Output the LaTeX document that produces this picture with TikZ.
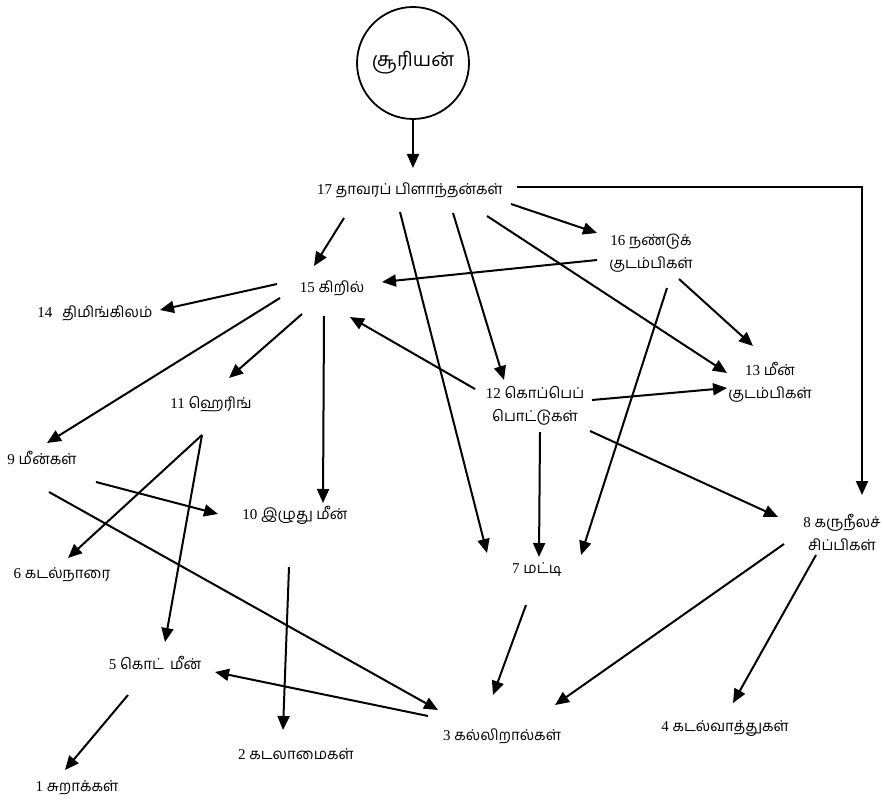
\documentclass[tikz,border=0pt]{standalone}
\usepackage{fontspec}
\setmainfont{Liberation Serif}
\newfontfamily\tam[Script=Tamil]{Hind Madurai}
\usetikzlibrary{arrows.meta}
\tikzset{
  lbl/.style={inner sep=0pt,align=center,font=\fontsize{15}{23}\selectfont},
  arr/.style={line width=2pt,-{Triangle[length=14pt,width=12pt]}},
  ln/.style={line width=2pt}
}
\begin{document}
\begin{tikzpicture}[x=1pt,y=-1pt]
\useasboundingbox (0,0) rectangle (883,802);
% nodes
\node[circle,draw,line width=1.8pt,minimum size=112pt,inner sep=0pt] (sun) at (413,63) {\tam\fontsize{19.5}{24}\selectfont சூரியன்};
\node[lbl] (n17) at (410,190) {17 {\tam தாவரப் பிளாந்தன்கள்}};
\node[lbl] (n16) at (651,253) {16 {\tam நண்டுக்}\\{\tam குடம்பிகள்}};
\node[lbl] (n15) at (332,288) {15 {\tam கிறில்}};
\node[lbl] (n14) at (95,313) {14\hspace{10pt}{\tam திமிங்கிலம்}};
\node[lbl] (n13) at (770,382) {13 {\tam மீன்}\\{\tam குடம்பிகள்}};
\node[lbl] (n12) at (535,406) {12 {\tam கொப்பெப்}\\{\tam பொட்டுகள்}};
\node[lbl] (n11) at (211,404) {11 {\tam ஹெரிங்}};
\node[lbl] (n10) at (295,515) {10 {\tam இழுது மீன்}};
\node[lbl] (n9) at (42,458) {9 {\tam மீன்கள்}};
\node[lbl] (n8) at (842,532) {8 {\tam கருநீலச்}\\{\tam சிப்பிகள்}};
\node[lbl] (n7) at (537,570) {7 {\tam மட்டி}};
\node[lbl] (n6) at (62,575) {6 {\tam கடல்நாரை}};
\node[lbl] (n5) at (155,663) {5 {\tam கொட்\hspace{6pt}மீன்}};
\node[lbl] (n4) at (725,729) {4 {\tam கடல்வாத்துகள்}};
\node[lbl] (n3) at (502,736) {3 {\tam கல்லிறால்கள்}};
\node[lbl] (n2) at (296,754) {2 {\tam கடலாமைகள்}};
\node[lbl] (n1) at (77,788) {1 {\tam சுறாக்கள்}};
% connector end points
\coordinate (t17) at (413,168);
\coordinate (a17r) at (517,187);
\coordinate (c17r) at (862,187);
\coordinate (t8a) at (862,495);
\coordinate (s1715) at (344,218); \coordinate (t1715) at (314,266);
\coordinate (s177) at (400,212); \coordinate (t177) at (487,553);
\coordinate (s1712) at (453,213); \coordinate (t1712) at (504,380);
\coordinate (s1716) at (511,204); \coordinate (t1716) at (597,233);
\coordinate (s1713) at (487,216); \coordinate (t1713) at (727,373);
\coordinate (s1615) at (597,260); \coordinate (t1615) at (382,282);
\coordinate (s1613) at (679,279); \coordinate (t1613) at (753,346);
\coordinate (s167) at (667,288); \coordinate (t167) at (581,555);
\coordinate (s1514) at (277,284); \coordinate (t1514) at (160,310);
\coordinate (s159) at (280,298); \coordinate (t159) at (47,443);
\coordinate (s1511) at (302,314); \coordinate (t1511) at (229,378);
\coordinate (s1510) at (324,316); \coordinate (t1510) at (323,503);
\coordinate (s1215) at (475,389); \coordinate (t1215) at (350,317);
\coordinate (s1213) at (592,400); \coordinate (t1213) at (727,388);
\coordinate (s127) at (540,432); \coordinate (t127) at (539,557);
\coordinate (s128) at (590,431); \coordinate (t128) at (778,517);
\coordinate (s83) at (784,544); \coordinate (t83) at (555,705);
\coordinate (s84) at (816,555); \coordinate (t84) at (733,703);
\coordinate (s73) at (526,605); \coordinate (t73) at (493,695);
\coordinate (s35) at (428,716); \coordinate (t35) at (215,672);
\coordinate (s93) at (49,492); \coordinate (t93) at (438,710);
\coordinate (s910) at (96,482); \coordinate (t910) at (218,514);
\coordinate (s11) at (202,435);
\coordinate (t116) at (68,558); \coordinate (t115) at (165,642);
\coordinate (s51) at (128,695); \coordinate (t51) at (65,770);
\coordinate (s102) at (289,567); \coordinate (t102) at (283,730);
% connectors
\draw[arr] (sun.south) -- (t17);
\draw[arr] (a17r) -- (c17r) -- (t8a);
\draw[arr] (s1715) -- (t1715);
\draw[arr] (s177) -- (t177);
\draw[arr] (s1712) -- (t1712);
\draw[arr] (s1716) -- (t1716);
\draw[arr] (s1713) -- (t1713);
\draw[arr] (s1615) -- (t1615);
\draw[arr] (s1613) -- (t1613);
\draw[arr] (s167) -- (t167);
\draw[arr] (s1514) -- (t1514);
\draw[arr] (s159) -- (t159);
\draw[arr] (s1511) -- (t1511);
\draw[arr] (s1510) -- (t1510);
\draw[arr] (s1215) -- (t1215);
\draw[arr] (s1213) -- (t1213);
\draw[arr] (s127) -- (t127);
\draw[arr] (s128) -- (t128);
\draw[arr] (s83) -- (t83);
\draw[arr] (s84) -- (t84);
\draw[arr] (s73) -- (t73);
\draw[arr] (s35) -- (t35);
\draw[arr] (s93) -- (t93);
\draw[arr] (s910) -- (t910);
\draw[arr] (s11) -- (t116);
\draw[arr] (s11) -- (t115);
\draw[arr] (s51) -- (t51);
\draw[arr] (s102) -- (t102);
\end{tikzpicture}
\end{document}
